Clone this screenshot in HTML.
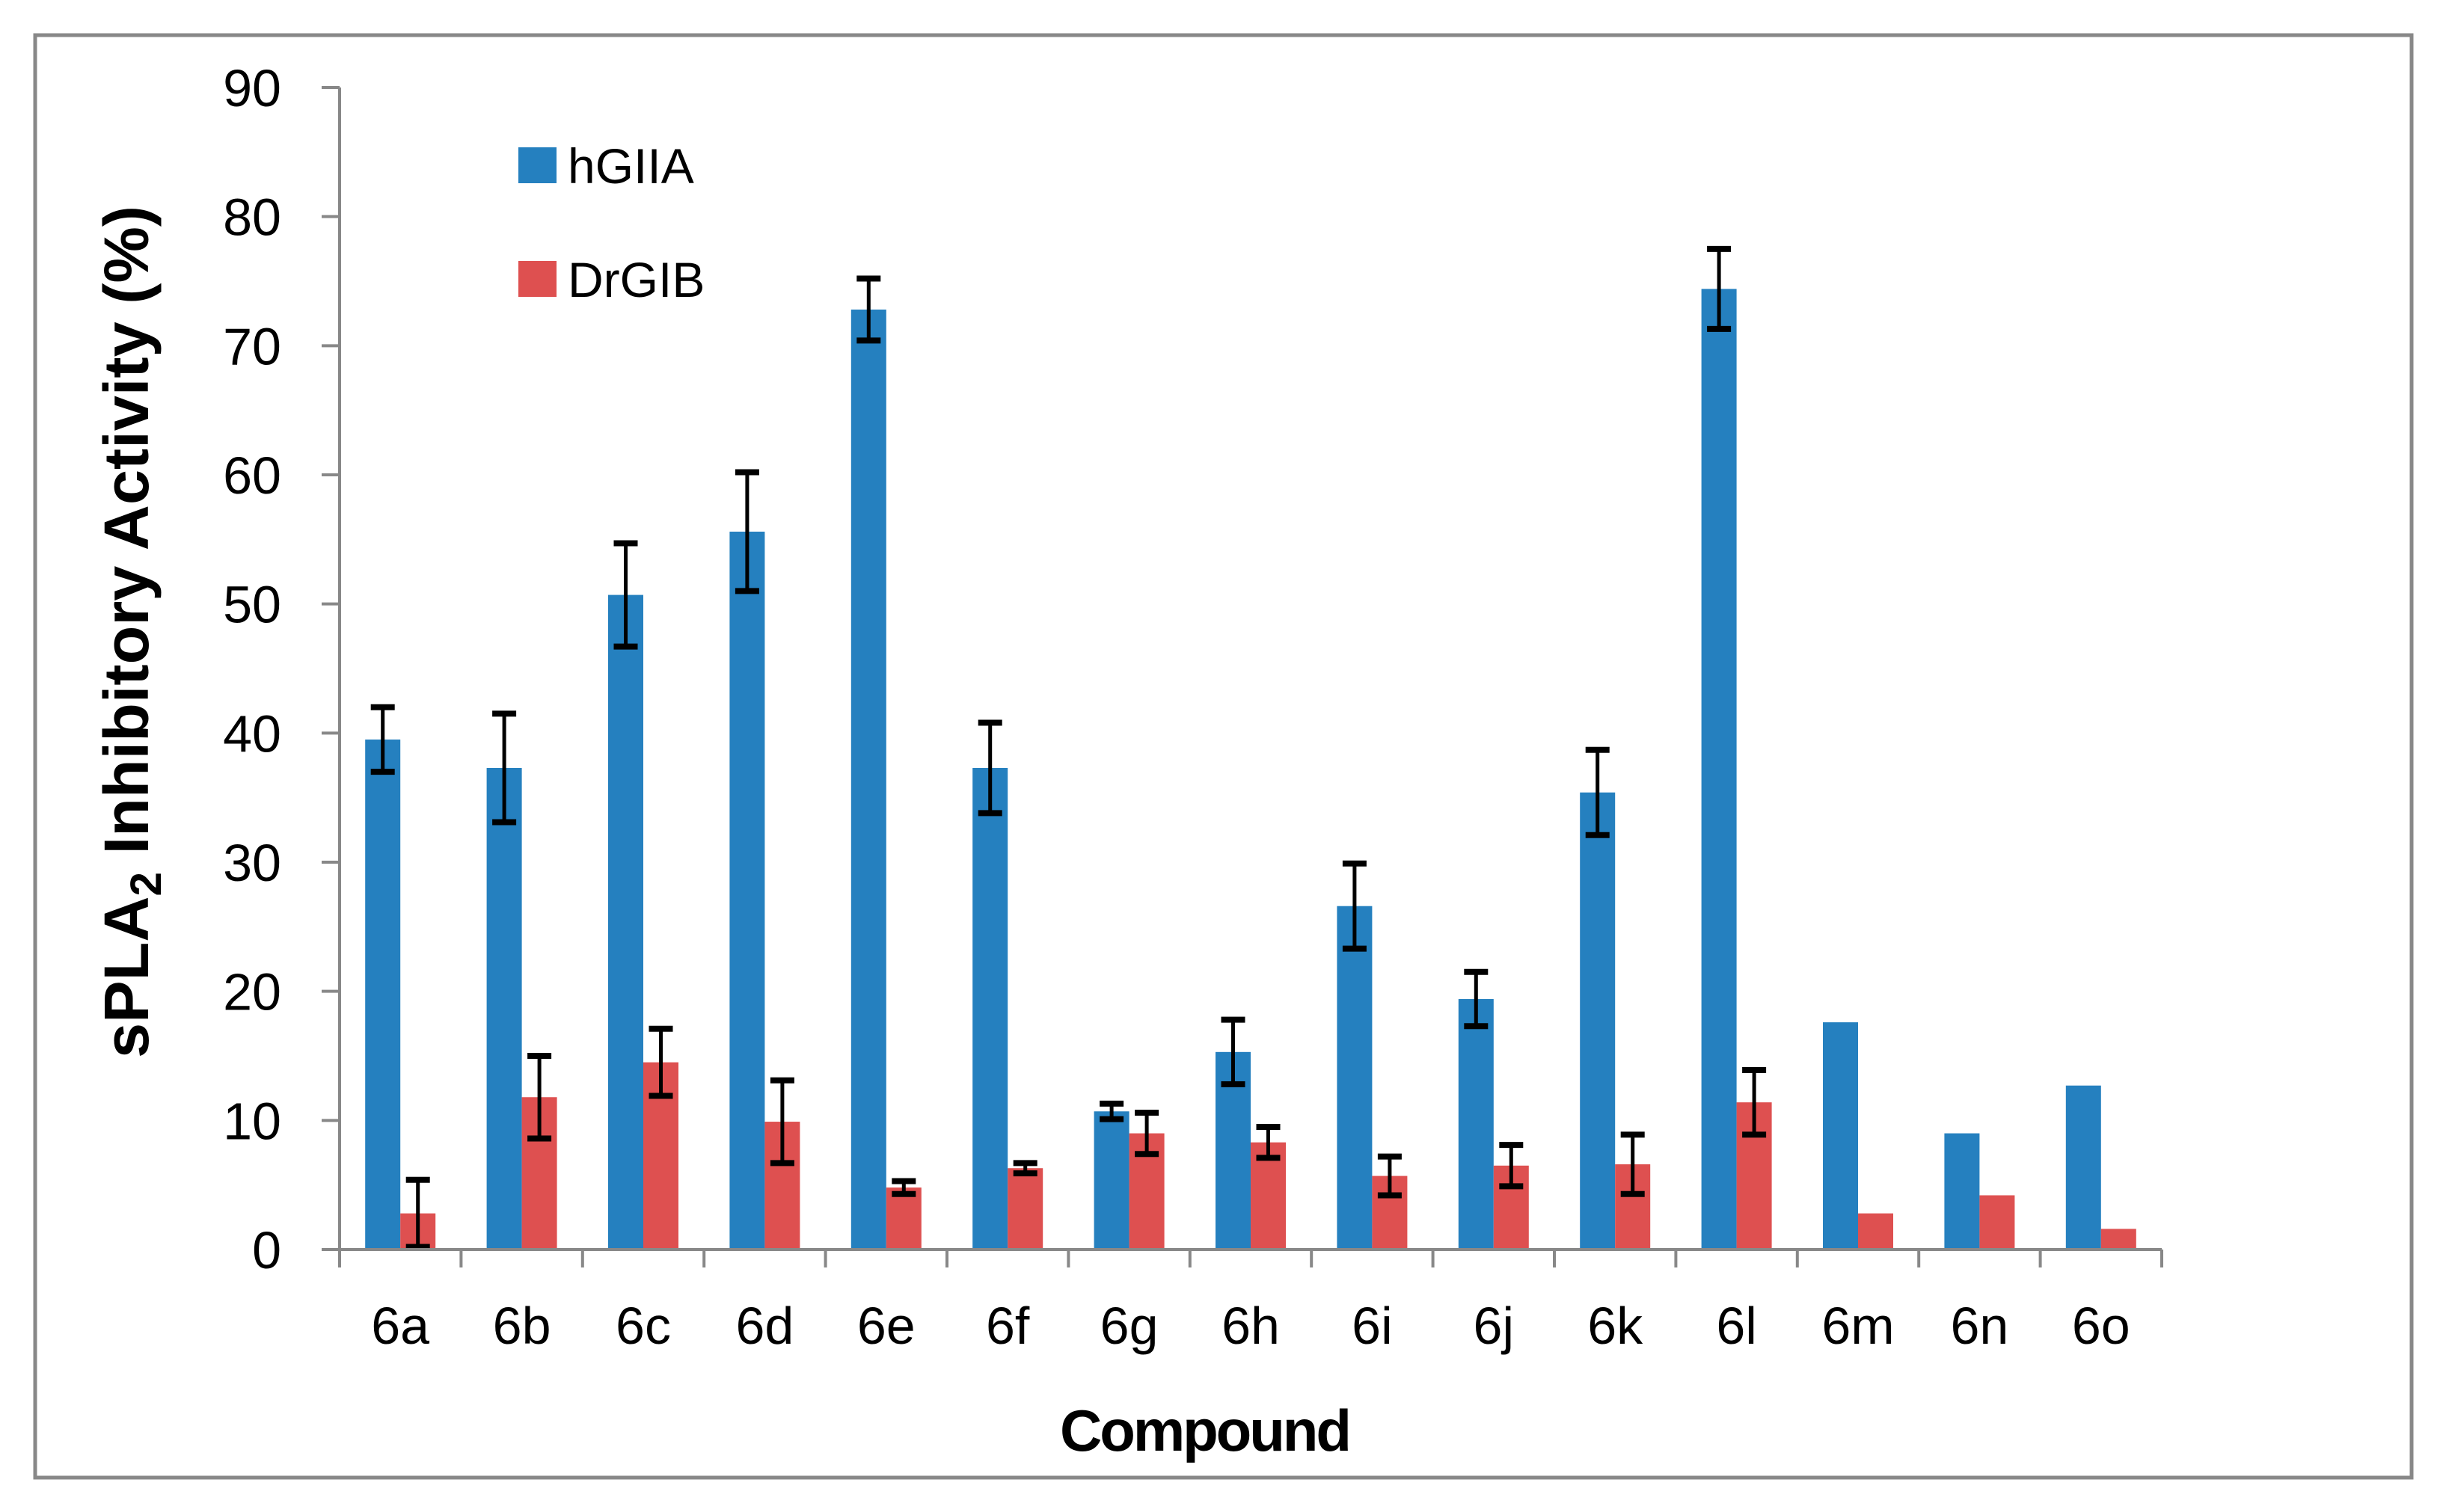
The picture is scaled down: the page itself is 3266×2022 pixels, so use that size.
<!DOCTYPE html>
<html><head><meta charset="utf-8"><style>
html,body{margin:0;padding:0;background:#fff;}
svg{display:block;}
text{font-family:"Liberation Sans",sans-serif;}
</style></head><body>
<svg id="chart" xmlns="http://www.w3.org/2000/svg" width="3266" height="2022" viewBox="0 0 3266 2022">
<rect x="47" y="47" width="3177" height="1929" fill="#fff" stroke="#888" stroke-width="5"/>
<g id="plot"></g>
<g>
<rect x="693" y="197" width="51" height="48" fill="#2580BF"/>
<text x="759" y="245" font-size="66" fill="#000">hGIIA</text>
<rect x="693" y="349" width="51" height="48" fill="#DE5050"/>
<text x="759" y="397" font-size="66" fill="#000">DrGIB</text>
</g>
<text x="1612" y="1940" font-size="78" font-weight="bold" text-anchor="middle" textLength="390">Compound</text>
<text transform="translate(198,845) rotate(-90)" font-size="84" font-weight="bold" text-anchor="middle" textLength="1140" lengthAdjust="spacingAndGlyphs">sPLA<tspan font-size="58" dy="17">2</tspan><tspan dy="-17"> Inhibitory Activity (%)</tspan></text>
</svg>
<script>
const categories = ["6a","6b","6c","6d","6e","6f","6g","6h","6i","6j","6k","6l","6m","6n","6o"];
const hGIIA = [39.5,37.3,50.7,55.6,72.8,37.3,10.7,15.3,26.6,19.4,35.4,74.4,17.6,9.0,12.7];
const hGIIAerr = [2.5,4.2,4.0,4.6,2.4,3.5,0.6,2.5,3.3,2.1,3.3,3.1,0,0,0];
const drGIB = [2.8,11.8,14.5,9.9,4.8,6.3,9.0,8.3,5.7,6.5,6.6,11.4,2.8,4.2,1.6];
const drGIBerr = [2.6,3.2,2.6,3.2,0.5,0.4,1.6,1.2,1.5,1.6,2.3,2.5,0,0,0];
const yTicks = [0,10,20,30,40,50,60,70,80,90];

const NS = "http://www.w3.org/2000/svg";
const X0 = 454, X1 = 2890, Y0 = 1671, Y90 = 117, YMAX = 90;
const band = (X1 - X0) / categories.length;
const BW = 47;
function y(v){ return Y0 - (v / YMAX) * (Y0 - Y90); }
function xc(i){ return X0 + band * (i + 0.5); }
const plot = document.getElementById('plot');
function mk(tag, attrs){ const e = document.createElementNS(NS, tag); for (const k in attrs) e.setAttribute(k, attrs[k]); plot.appendChild(e); return e; }

let ax = mk('line', {x1:X0, y1:Y90, x2:X0, y2:Y0, stroke:'#888', 'stroke-width':4});


yTicks.forEach(t => {
  const tk = mk('line', {x1:X0-24, y1:y(t), x2:X0, y2:y(t), stroke:'#888', 'stroke-width':4});
  
  
  const lb = mk('text', {x:376, y:y(t)+25, 'font-size':70, 'text-anchor':'end', fill:'#000'});
  lb.textContent = t;
  
  
});
let xa = mk('line', {x1:X0, y1:Y0, x2:X1, y2:Y0, stroke:'#888', 'stroke-width':4});


for (let i = 0; i <= categories.length; i++) {
  const xx = X0 + band * i;
  const tk = mk('line', {x1:xx, y1:Y0, x2:xx, y2:Y0+24, stroke:'#888', 'stroke-width':4});
  
  
}
categories.forEach((c, i) => {
  const lb = mk('text', {x:xc(i), y:1797, 'font-size':70, 'text-anchor':'middle', fill:'#000'});
  lb.textContent = c;
  
  
});
function errbar(cx, v, e){
  if (!e) return;
  const g = [
    mk('line', {x1:cx, y1:y(v+e), x2:cx, y2:y(v-e), stroke:'#000', 'stroke-width':5}),
    mk('line', {x1:cx-16, y1:y(v+e), x2:cx+16, y2:y(v+e), stroke:'#000', 'stroke-width':8}),
    mk('line', {x1:cx-16, y1:y(v-e), x2:cx+16, y2:y(v-e), stroke:'#000', 'stroke-width':8})
  ];
  g.forEach(el => {
    
    
  });
}
categories.forEach((c, i) => {
  const b1 = mk('rect', {x:xc(i)-BW, y:y(hGIIA[i]), width:BW, height:Y0-y(hGIIA[i]), fill:'#2580BF'});
  
  
  const b2 = mk('rect', {x:xc(i), y:y(drGIB[i]), width:BW, height:Y0-y(drGIB[i]), fill:'#DE5050'});
  
  
});
categories.forEach((c, i) => {
  errbar(xc(i)-BW/2, hGIIA[i], hGIIAerr[i]);
  errbar(xc(i)+BW/2, drGIB[i], drGIBerr[i]);
});
plot.appendChild(xa);
</script>
</body></html>
